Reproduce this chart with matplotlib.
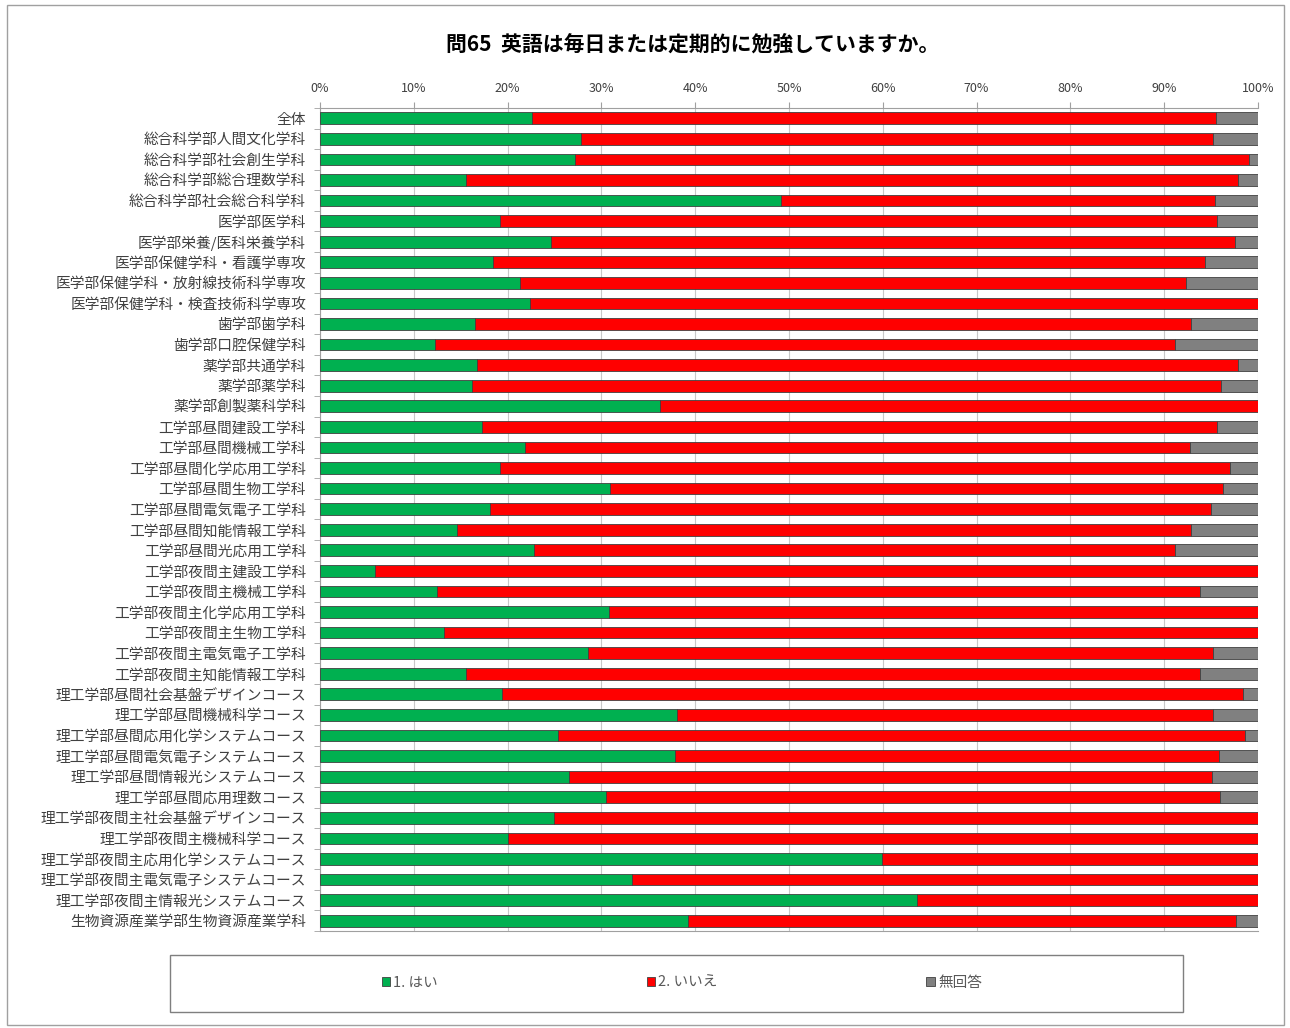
import numpy as np
import matplotlib
matplotlib.use("Agg")
import matplotlib.pyplot as plt
from matplotlib.patches import Rectangle

plt.rcParams['font.family'] = ['Noto Sans CJK JP', 'DejaVu Sans']

title = "問65  英語は毎日または定期的に勉強していますか。"

categories = [
    "全体",
    "総合科学部人間文化学科",
    "総合科学部社会創生学科",
    "総合科学部総合理数学科",
    "総合科学部社会総合科学科",
    "医学部医学科",
    "医学部栄養/医科栄養学科",
    "医学部保健学科・看護学専攻",
    "医学部保健学科・放射線技術科学専攻",
    "医学部保健学科・検査技術科学専攻",
    "歯学部歯学科",
    "歯学部口腔保健学科",
    "薬学部共通学科",
    "薬学部薬学科",
    "薬学部創製薬科学科",
    "工学部昼間建設工学科",
    "工学部昼間機械工学科",
    "工学部昼間化学応用工学科",
    "工学部昼間生物工学科",
    "工学部昼間電気電子工学科",
    "工学部昼間知能情報工学科",
    "工学部昼間光応用工学科",
    "工学部夜間主建設工学科",
    "工学部夜間主機械工学科",
    "工学部夜間主化学応用工学科",
    "工学部夜間主生物工学科",
    "工学部夜間主電気電子工学科",
    "工学部夜間主知能情報工学科",
    "理工学部昼間社会基盤デザインコース",
    "理工学部昼間機械科学コース",
    "理工学部昼間応用化学システムコース",
    "理工学部昼間電気電子システムコース",
    "理工学部昼間情報光システムコース",
    "理工学部昼間応用理数コース",
    "理工学部夜間主社会基盤デザインコース",
    "理工学部夜間主機械科学コース",
    "理工学部夜間主応用化学システムコース",
    "理工学部夜間主電気電子システムコース",
    "理工学部夜間主情報光システムコース",
    "生物資源産業学部生物資源産業学科",
]

# percentages
yes = [22.6, 27.8, 27.2, 15.6, 49.1, 19.2, 24.6, 18.5, 21.3, 22.4,
       16.5, 12.3, 16.7, 16.2, 36.2, 17.3, 21.9, 19.2, 30.9, 18.1,
       14.6, 22.8, 5.9, 12.5, 30.8, 13.2, 28.6, 15.6, 19.4, 38.1,
       25.4, 37.9, 26.5, 30.5, 25.0, 20.0, 59.9, 33.3, 63.6, 39.2]
no = [72.9, 67.4, 71.8, 82.3, 46.3, 76.4, 72.9, 75.9, 71.0, 77.6,
      76.4, 78.9, 81.2, 79.9, 63.8, 78.3, 70.8, 77.8, 65.4, 76.9,
      78.3, 68.4, 94.1, 81.3, 69.2, 86.8, 66.6, 78.2, 79.0, 57.1,
      73.2, 57.9, 68.6, 65.4, 75.0, 80.0, 40.1, 66.7, 36.4, 58.5]
no_answer = [4.5, 4.8, 1.0, 2.1, 4.6, 4.4, 2.5, 5.6, 7.7, 0.0,
             7.1, 8.8, 2.1, 3.9, 0.0, 4.4, 7.3, 3.0, 3.7, 5.0,
             7.1, 8.8, 0.0, 6.2, 0.0, 0.0, 4.8, 6.2, 1.6, 4.8,
             1.4, 4.2, 4.9, 4.1, 0.0, 0.0, 0.0, 0.0, 0.0, 2.3]

series_names = ["1. はい", "2. いいえ", "無回答"]
colors = ["#00B050", "#FF0000", "#808080"]

fig = plt.figure(figsize=(12.9, 10.28), dpi=100)
ax = fig.add_axes([0.248, 0.0944, 0.7272, 0.8006])

y = np.arange(len(categories))
left = np.zeros(len(categories))
for vals, name, c in zip([yes, no, no_answer], series_names, colors):
    vals = np.array(vals)
    ax.barh(y, vals, left=left, height=0.57, color=c, edgecolor="#404040",
            linewidth=0.6, label=name, zorder=3)
    left += vals

ax.set_xlim(0, 100)
ax.set_ylim(len(categories) - 0.5, -0.5)
ax.set_yticks(y)
ax.set_yticklabels(categories, fontsize=10.6, color="#404040")
ax.set_yticks(np.arange(len(categories) + 1) - 0.5, minor=True)
ax.tick_params(axis="y", which="major", length=0, pad=10)
ax.tick_params(axis="y", which="minor", length=4, color="#a0a0a0")

ax.xaxis.tick_top()
ax.set_xticks(np.arange(0, 101, 10))
ax.set_xticklabels([f"{v}%" for v in range(0, 101, 10)], fontsize=9, color="#404040")
ax.tick_params(axis="x", length=4, color="#a0a0a0", pad=5)
ax.grid(axis="x", color="#c8c8c8", linewidth=0.8, zorder=0)

for side in ["left", "top", "bottom"]:
    ax.spines[side].set_color("#a0a0a0")
ax.spines["right"].set_visible(False)

fig.text(0.537, 0.957, title, ha="center", va="center", fontsize=15, fontweight="bold")

# legend box
fig.patches.append(Rectangle((0.132, 0.0156), 0.785, 0.0554, transform=fig.transFigure,
                             facecolor="white", edgecolor="#7f7f7f", linewidth=1.0))
leg = fig.legend(loc="center", bbox_to_anchor=(0.5285, 0.0438), ncol=3, frameon=False,
                 fontsize=10.5, handlelength=0.6, handleheight=0.6, handletextpad=0.2,
                 columnspacing=14.3)
for t in leg.get_texts():
    t.set_color("#595959")

# outer frame
fig.patches.append(Rectangle((0.0054, 0.003), 0.9896, 0.992, transform=fig.transFigure,
                             facecolor="none", edgecolor="#a0a0a0", linewidth=1.0))

fig.savefig("out.png", dpi=100)
